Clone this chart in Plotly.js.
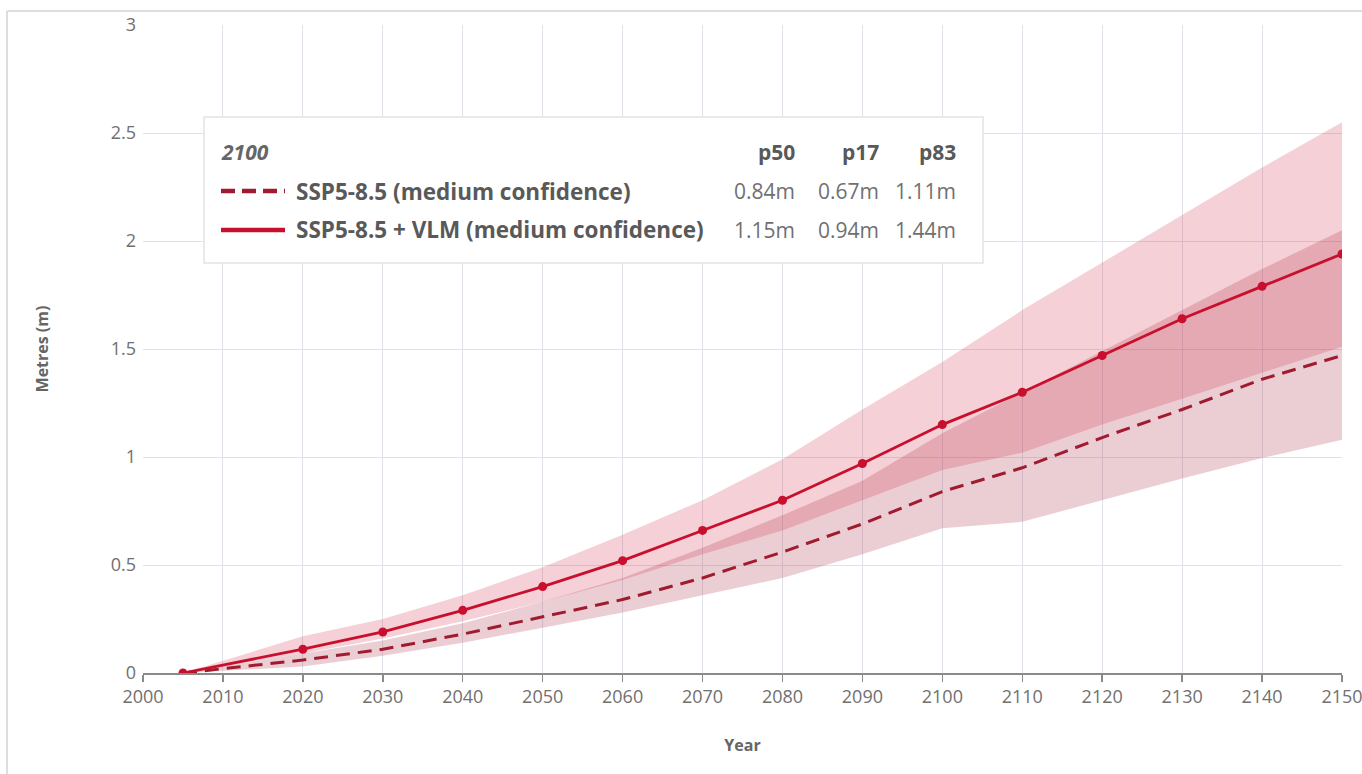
<!DOCTYPE html>
<html>
<head>
<meta charset="utf-8">
<script src="https://cdn.plot.ly/plotly-3.0.1.min.js"></script>
<style>html,body{margin:0;padding:0;background:#fff;}#chart{width:1362px;height:774px;}</style>
</head>
<body>
<div id="chart"></div>
<script>
var years = [2005, 2020, 2030, 2040, 2050, 2060, 2070, 2080, 2090, 2100, 2110, 2120, 2130, 2140, 2150];
var sspP50 = [0, 0.06, 0.11, 0.18, 0.26, 0.34, 0.44, 0.56, 0.69, 0.84, 0.95, 1.09, 1.22, 1.36, 1.47];
var sspP17 = [0, 0.03, 0.08, 0.14, 0.21, 0.28, 0.36, 0.44, 0.55, 0.67, 0.70, 0.80, 0.90, 0.995, 1.08];
var sspP83 = [0, 0.09, 0.15, 0.23, 0.33, 0.44, 0.58, 0.73, 0.89, 1.11, 1.30, 1.49, 1.68, 1.87, 2.05];
var vlmP50 = [0, 0.11, 0.19, 0.29, 0.40, 0.52, 0.66, 0.80, 0.97, 1.15, 1.30, 1.47, 1.64, 1.79, 1.94];
var vlmP17 = [0, 0.09, 0.16, 0.24, 0.33, 0.43, 0.55, 0.66, 0.80, 0.94, 1.02, 1.15, 1.27, 1.39, 1.51];
var vlmP83 = [0, 0.17, 0.25, 0.36, 0.49, 0.64, 0.80, 0.99, 1.22, 1.44, 1.68, 1.90, 2.12, 2.34, 2.55];

var legendYear = "2100";
var legendHeaders = ["p50", "p17", "p83"];
var seriesNames = ["SSP5-8.5 (medium confidence)", "SSP5-8.5 + VLM (medium confidence)"];
var legendValues = [["0.84m", "0.67m", "1.11m"], ["1.15m", "0.94m", "1.44m"]];

var RED = "#c8102e", MAROON = "#a01a30";
var FONT = "Open Sans, Noto Sans, sans-serif";

function band(lo, hi, color) {
  return [
    {x: years, y: lo, mode: "lines", line: {width: 0}, hoverinfo: "skip", showlegend: false},
    {x: years, y: hi, mode: "lines", line: {width: 0}, fill: "tonexty", fillcolor: color, hoverinfo: "skip", showlegend: false}
  ];
}

var data = [].concat(
  band(sspP17, sspP83, "rgba(165,30,55,0.22)"),
  band(vlmP17, vlmP83, "rgba(210,40,70,0.22)"),
  [
    {x: years, y: sspP50, mode: "lines", name: seriesNames[0], line: {color: MAROON, width: 3, dash: "14px,8px"}, showlegend: false},
    {x: years, y: vlmP50, mode: "lines+markers", name: seriesNames[1], line: {color: RED, width: 2.8}, marker: {color: RED, size: 9}, showlegend: false}
  ]
);

// pixel -> paper helpers (plot area: x 143..1342, y 25..673)
function px(x) { return (x - 143) / 1199; }
function py(y) { return (673 - y) / 648; }

var annotations = [];
var shapes = [];

// page frame
shapes.push({type: "line", xref: "paper", yref: "paper", x0: px(7), x1: px(1362), y0: py(11), y1: py(11), line: {color: "#dddddd", width: 2}, layer: "below"});
shapes.push({type: "line", xref: "paper", yref: "paper", x0: px(7), x1: px(7), y0: py(11), y1: py(774), line: {color: "#dddddd", width: 2}, layer: "below"});

// legend box
shapes.push({type: "rect", xref: "paper", yref: "paper", x0: px(204), x1: px(983), y0: py(263), y1: py(117), fillcolor: "#ffffff", line: {color: "#e3e3e3", width: 1.5}, layer: "above"});
shapes.push({type: "line", xref: "paper", yref: "paper", x0: px(221), x1: px(285), y0: py(191), y1: py(191), line: {color: MAROON, width: 4.5, dash: "14px,7px"}, layer: "above"});
shapes.push({type: "line", xref: "paper", yref: "paper", x0: px(221), x1: px(285), y0: py(230), y1: py(230), line: {color: RED, width: 4.5}, layer: "above"});

annotations.push({xref: "paper", yref: "paper", x: px(219), y: py(152), xanchor: "left", yanchor: "middle", showarrow: false,
  text: "<b><i>" + legendYear + "</i></b>", font: {family: FONT, size: 21, color: "#666666"}});
var colRight = [797, 881, 958];
for (var i = 0; i < 3; i++) {
  annotations.push({xref: "paper", yref: "paper", x: px(colRight[i]), y: py(152), xanchor: "right", yanchor: "middle", showarrow: false,
    text: "<b>" + legendHeaders[i] + "</b>", font: {family: FONT, size: 21, color: "#595959"}});
}
var rowY = [191, 230];
for (var r = 0; r < 2; r++) {
  annotations.push({xref: "paper", yref: "paper", x: px(294), y: py(rowY[r]), xanchor: "left", yanchor: "middle", showarrow: false,
    text: "<b>" + seriesNames[r] + "</b>", font: {family: FONT, size: 22.5, color: "#595959"}});
  for (var c = 0; c < 3; c++) {
    annotations.push({xref: "paper", yref: "paper", x: px(colRight[c]), y: py(rowY[r]), xanchor: "right", yanchor: "middle", showarrow: false,
      text: legendValues[r][c], font: {family: FONT, size: 21, color: "#707070"}});
  }
}

var layout = {
  width: 1362, height: 774,
  margin: {l: 143, r: 20, t: 25, b: 101},
  paper_bgcolor: "#ffffff", plot_bgcolor: "#ffffff",
  showlegend: false,
  font: {family: FONT, color: "#666666", size: 16},
  xaxis: {
    range: [2000, 2150], dtick: 10, tick0: 2000,
    showgrid: true, gridcolor: "#e0e2ea", gridwidth: 1,
    showline: true, linecolor: "#8a8a8a", linewidth: 1.5,
    ticks: "outside", ticklen: 7, tickcolor: "#8a8a8a", tickwidth: 1.5,
    tickfont: {family: FONT, size: 18, color: "#707070"},
    ticklabeloverflow: "allow",
    zeroline: false,
    title: {text: "<b>Year</b>", font: {family: FONT, size: 16, color: "#666666"}, standoff: 32}
  },
  yaxis: {
    range: [0, 3], dtick: 0.5,
    showgrid: true, gridcolor: "#e0e2ea", gridwidth: 1,
    showline: false, zeroline: false, ticks: "", ticklabelstandoff: 6,
    tickfont: {family: FONT, size: 18, color: "#707070"},
    title: {text: "<b>Metres (m)</b>", font: {family: FONT, size: 16, color: "#666666"}, standoff: 58}
  },
  shapes: shapes,
  annotations: annotations
};

Plotly.newPlot("chart", data, layout, {displayModeBar: false, staticPlot: true});
</script>
</body>
</html>
